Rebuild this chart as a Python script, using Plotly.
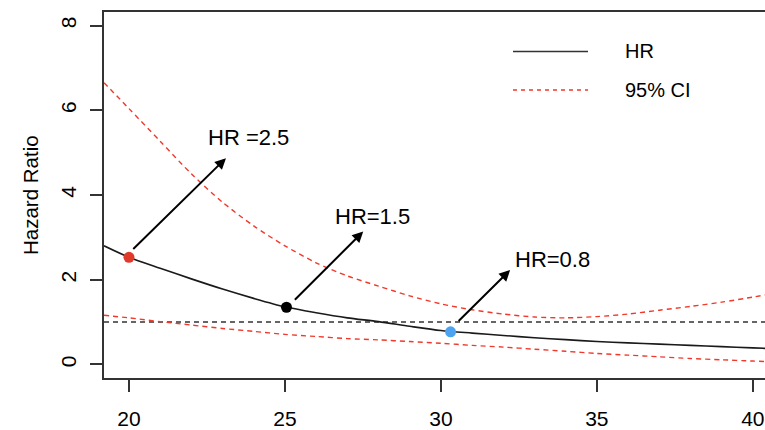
import plotly.graph_objects as go

# ---- data ----
x_vals = [19.2, 20, 21, 22, 23, 24, 25, 26, 27, 28, 29, 30, 31, 32, 33, 34, 35, 36, 37, 38, 39, 40, 40.4]
hr_vals = [2.80, 2.53, 2.27, 2.02, 1.78, 1.56, 1.36, 1.22, 1.10, 1.01, 0.90, 0.80, 0.74, 0.685, 0.63, 0.585, 0.54, 0.51, 0.48, 0.45, 0.42, 0.39, 0.38]
ci_upper = [6.65, 6.04, 5.27, 4.50, 3.83, 3.27, 2.80, 2.40, 2.09, 1.85, 1.62, 1.43, 1.29, 1.19, 1.12, 1.10, 1.13, 1.19, 1.28, 1.37, 1.47, 1.59, 1.64]
ci_lower = [1.16, 1.10, 1.01, 0.93, 0.85, 0.78, 0.71, 0.66, 0.61, 0.58, 0.54, 0.50, 0.45, 0.41, 0.36, 0.31, 0.26, 0.22, 0.18, 0.14, 0.11, 0.08, 0.07]

ref_line_y = 1

point_x = [20.0, 25.05, 30.31]
point_y = [2.53, 1.35, 0.77]
point_colors = ["#E03A2A", "#000000", "#4DA3F0"]

label_texts = ["HR =2.5", "HR=1.5", "HR=0.8"]
label_x = [22.47, 26.55, 32.32]
label_y = [5.35, 3.50, 2.47]
arrow_tail_x = [20.09, 25.27, 30.52]
arrow_tail_y = [2.69, 1.49, 0.99]
arrow_head_x = [23.11, 27.51, 32.22]
arrow_head_y = [4.87, 3.14, 2.23]

x_ticks = [20, 25, 30, 35, 40]
y_ticks = [0, 2, 4, 6, 8]
legend_labels = ["HR", "95% CI"]

FONT = "Liberation Sans, Arial, Helvetica, sans-serif"
RED = "#F0392B"

fig = go.Figure()

fig.add_trace(go.Scatter(x=[x_vals[0], x_vals[-1]], y=[ref_line_y, ref_line_y], mode="lines",
                         line=dict(color="#333333", width=1.5, dash="5px,4px"), showlegend=False, hoverinfo="skip"))
fig.add_trace(go.Scatter(x=x_vals, y=ci_upper, mode="lines",
                         line=dict(color=RED, width=1.4, dash="5px,4px", shape="spline", smoothing=0.8),
                         showlegend=False))
fig.add_trace(go.Scatter(x=x_vals, y=ci_lower, mode="lines",
                         line=dict(color=RED, width=1.4, dash="5px,4px", shape="spline", smoothing=0.8),
                         showlegend=False))
fig.add_trace(go.Scatter(x=x_vals, y=hr_vals, mode="lines",
                         line=dict(color="#1a1a1a", width=1.6, shape="spline", smoothing=0.8),
                         showlegend=False))
fig.add_trace(go.Scatter(x=point_x, y=point_y, mode="markers",
                         marker=dict(color=point_colors, size=11, line=dict(width=0)), showlegend=False))

annotations = []
for i in range(3):
    annotations.append(dict(x=arrow_head_x[i], y=arrow_head_y[i], xref="x", yref="y",
                            ax=arrow_tail_x[i], ay=arrow_tail_y[i], axref="x", ayref="y",
                            text="", showarrow=True, arrowhead=2, arrowsize=1.1, arrowwidth=2,
                            arrowcolor="#000000", standoff=0, startstandoff=0))
    annotations.append(dict(x=label_x[i], y=label_y[i], xref="x", yref="y", text=label_texts[i],
                            showarrow=False, xanchor="left", yanchor="middle",
                            font=dict(family=FONT, size=22, color="#000000")))

# y-axis title
annotations.append(dict(x=(30 - 104) / 661, y=0.5, xref="paper", yref="paper", text="Hazard Ratio",
                        textangle=-90, showarrow=False, xanchor="center", yanchor="middle",
                        font=dict(family=FONT, size=20.5, color="#000000")))

# legend (manual)
def px_x(p):
    return (p - 104) / 661

def px_y(p):
    return (383 - p) / 371

shapes = [
    dict(type="line", xref="paper", yref="paper", x0=px_x(513), x1=px_x(588), y0=px_y(52), y1=px_y(52),
         line=dict(color="#333333", width=1.6)),
    dict(type="line", xref="paper", yref="paper", x0=px_x(513), x1=px_x(588), y0=px_y(91), y1=px_y(91),
         line=dict(color=RED, width=1.4, dash="4px,4px")),
]
for lbl, py in zip(legend_labels, [52, 91]):
    annotations.append(dict(x=px_x(623), y=px_y(py), xref="paper", yref="paper", text=lbl, showarrow=False,
                            xanchor="left", yanchor="middle", font=dict(family=FONT, size=20, color="#000000")))

fig.update_layout(
    width=765, height=430,
    margin=dict(l=104, r=0, t=12, b=47),
    paper_bgcolor="white", plot_bgcolor="white",
    font=dict(family=FONT, size=20, color="#000000"),
    showlegend=False,
    annotations=annotations,
    shapes=shapes,
    xaxis=dict(range=[19.2, 40.39], tickvals=x_ticks, ticktext=[str(t) for t in x_ticks],
               showgrid=False, zeroline=False, showline=True, linecolor="#333333", linewidth=1.5, mirror=True,
               ticks="outside", ticklen=12, tickwidth=1.5, tickcolor="#333333",
               ticklabelstandoff=9, tickfont=dict(family=FONT, size=21, color="#000000")),
    yaxis=dict(range=[-0.32, 8.32], tickvals=y_ticks, ticktext=[str(t) for t in y_ticks],
               showgrid=False, zeroline=False, showline=True, linecolor="#333333", linewidth=1.5, mirror=False,
               ticks="outside", ticklen=12, tickwidth=1.5, tickcolor="#333333", tickangle=-90,
               ticklabelstandoff=6, tickfont=dict(family=FONT, size=21, color="#000000")),
)

fig.write_html("out.html", config={"displayModeBar": False},
               post_script="document.body.style.margin='0';document.body.style.padding='0';"
                           "document.body.style.overflow='hidden';")
